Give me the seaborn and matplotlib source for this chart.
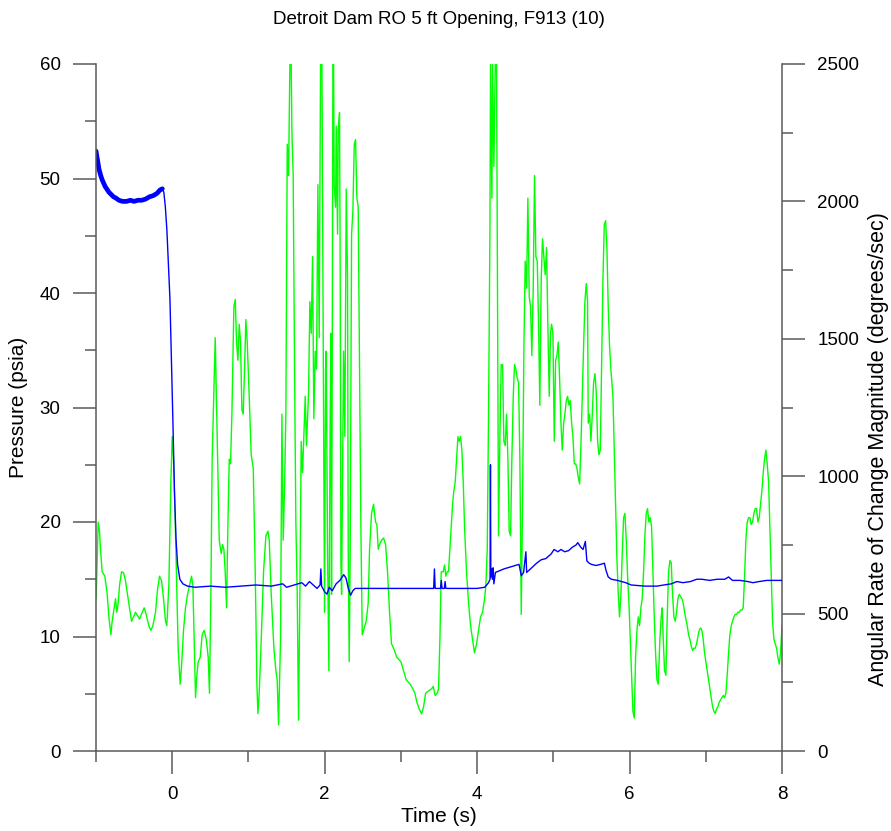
import numpy as np
import pandas as pd
import matplotlib
matplotlib.use("Agg")
import matplotlib.pyplot as plt
import seaborn as sns
from matplotlib.ticker import MultipleLocator

# ---------------- data ----------------
title = "Detroit Dam RO 5 ft Opening, F913 (10)"
x_label = "Time (s)"
y_left_label = "Pressure (psia)"
y_right_label = "Angular Rate of Change Magnitude (degrees/sec)"

# Pressure (psia), blue, left axis
blue_t = [-1.0, -0.98, -0.96, -0.94, -0.92, -0.9, -0.88, -0.85, -0.83, -0.8, -0.77, -0.74,
          -0.7, -0.65, -0.6, -0.55, -0.5, -0.45, -0.4, -0.35, -0.3, -0.25, -0.2, -0.16,
          -0.13, -0.11, -0.09, -0.07, -0.05, -0.03, -0.01, 0.01, 0.03, 0.05, 0.07, 0.1,
          0.14, 0.2, 0.3, 0.5, 0.7, 0.9, 1.1, 1.3, 1.45, 1.5, 1.6, 1.7, 1.75, 1.8, 1.85,
          1.9, 1.94, 1.95, 1.96, 2.0, 2.03, 2.06, 2.1, 2.15, 2.2, 2.25, 2.28, 2.31, 2.34,
          2.37, 2.4, 2.5, 3.0, 3.43, 3.44, 3.45, 3.52, 3.53, 3.54, 3.57, 3.58, 3.59, 4.0,
          4.1, 4.15, 4.17, 4.175, 4.18, 4.19, 4.2, 4.21, 4.22, 4.24, 4.28, 4.35, 4.45,
          4.55, 4.58, 4.61, 4.64, 4.65, 4.7, 4.78, 4.84, 4.9, 4.97, 5.01, 5.06, 5.1, 5.15,
          5.2, 5.25, 5.3, 5.32, 5.36, 5.39, 5.42, 5.44, 5.47, 5.5, 5.56, 5.62, 5.67, 5.69,
          5.72, 5.76, 5.84, 5.95, 6.02, 6.2, 6.36, 6.45, 6.55, 6.62, 6.7, 6.8, 6.88, 6.95,
          7.05, 7.15, 7.25, 7.3, 7.35, 7.45, 7.55, 7.62, 7.7, 7.8, 7.9, 8.0]
blue_p = [52.4, 51.6, 50.8, 50.3, 49.9, 49.6, 49.3, 49.0, 48.8, 48.6, 48.4, 48.3,
          48.1, 48.0, 48.0, 48.1, 48.0, 48.1, 48.1, 48.2, 48.4, 48.5, 48.7, 49.0,
          49.1, 48.8, 47.5, 45.5, 42.5, 39.5, 34.0, 28.5, 22.5, 18.5, 16.3, 15.0,
          14.6, 14.4, 14.3, 14.4, 14.3, 14.4, 14.5, 14.4, 14.6, 14.3, 14.5, 14.7, 14.4, 14.8, 14.5,
          14.2, 14.5, 15.9, 14.4, 13.9, 13.7, 14.3, 14.0, 14.6, 14.9, 15.4, 15.1, 14.2, 13.6,
          14.0, 14.2, 14.2, 14.2, 14.2, 15.9, 14.2, 14.2, 14.9, 14.2, 14.2, 14.8, 14.2, 14.2,
          14.3, 14.7, 15.0, 25.0, 15.2, 15.9, 15.0, 16.0, 14.6, 15.6, 15.7, 15.9, 16.1,
          16.3, 15.3, 15.6, 17.4, 15.6, 15.9, 16.4, 16.7, 16.8, 17.2, 17.6, 17.4, 17.6, 17.4,
          17.5, 17.8, 18.0, 18.2, 17.8, 17.6, 18.3, 16.6, 16.4, 16.3, 16.2, 16.3, 16.4, 15.8,
          15.2, 15.0, 14.9, 14.7, 14.5, 14.4, 14.4, 14.5, 14.6, 14.8, 14.7, 14.8, 15.0, 15.0,
          14.9, 15.0, 15.0, 15.2, 14.9, 14.9, 14.8, 14.7, 14.8, 14.9, 14.9, 14.9]

# Angular rate of change magnitude (deg/s), green, right axis
green_t = [-0.998, -0.971, -0.954, -0.941, -0.919, -0.884, -0.853, -0.831, -0.805, -0.788,
           -0.761, -0.744, -0.726, -0.709, -0.691, -0.665, -0.639, -0.613, -0.587, -0.560,
           -0.534, -0.508, -0.482, -0.455, -0.429, -0.394, -0.368, -0.342, -0.307, -0.280,
           -0.254, -0.219, -0.193, -0.167, -0.140, -0.114, -0.088, -0.071, -0.044, -0.018,
           0.000, 0.017, 0.034, 0.061, 0.078, 0.104, 0.122, 0.148, 0.174, 0.201,
           0.227, 0.253, 0.271, 0.288, 0.306, 0.323, 0.341, 0.367, 0.393, 0.420,
           0.446, 0.472, 0.489, 0.507, 0.524, 0.564, 0.590, 0.617, 0.643, 0.660,
           0.678, 0.695, 0.713, 0.730, 0.748, 0.765, 0.783, 0.809, 0.827, 0.844,
           0.862, 0.879, 0.896, 0.914, 0.931, 0.949, 0.966, 0.984, 1.010, 1.036,
           1.063, 1.089, 1.111, 1.124, 1.141, 1.168, 1.198, 1.229, 1.255, 1.273,
           1.299, 1.334, 1.360, 1.377, 1.395, 1.421, 1.439, 1.456, 1.474, 1.491,
           1.509, 1.526, 1.544, 1.561, 1.570, 1.587, 1.605, 1.622, 1.640, 1.657,
           1.675, 1.692, 1.710, 1.727, 1.745, 1.762, 1.789, 1.806, 1.824, 1.841,
           1.858, 1.876, 1.893, 1.911, 1.928, 1.946, 1.964, 1.981, 1.998, 2.012,
           2.020, 2.038, 2.055, 2.073, 2.082, 2.090, 2.099, 2.108, 2.117, 2.125,
           2.143, 2.152, 2.169, 2.178, 2.195, 2.204, 2.213, 2.222, 2.239, 2.248,
           2.265, 2.283, 2.300, 2.309, 2.322, 2.335, 2.353, 2.370, 2.388, 2.405,
           2.423, 2.440, 2.458, 2.475, 2.493, 2.510, 2.528, 2.545, 2.571, 2.589,
           2.615, 2.641, 2.668, 2.685, 2.703, 2.720, 2.746, 2.773, 2.799, 2.825,
           2.851, 2.877, 2.904, 2.947, 3.000, 3.035, 3.070, 3.122, 3.157, 3.184,
           3.210, 3.245, 3.271, 3.297, 3.324, 3.359, 3.402, 3.424, 3.450, 3.477,
           3.494, 3.512, 3.529, 3.555, 3.573, 3.590, 3.608, 3.625, 3.643, 3.660,
           3.678, 3.695, 3.713, 3.730, 3.748, 3.765, 3.783, 3.800, 3.818, 3.835,
           3.861, 3.888, 3.914, 3.940, 3.966, 3.993, 4.019, 4.045, 4.071, 4.098,
           4.115, 4.133, 4.150, 4.168, 4.176, 4.194, 4.203, 4.220, 4.238, 4.255,
           4.264, 4.272, 4.281, 4.299, 4.316, 4.334, 4.351, 4.369, 4.386, 4.404,
           4.421, 4.439, 4.456, 4.474, 4.491, 4.509, 4.526, 4.544, 4.561, 4.579,
           4.596, 4.614, 4.631, 4.649, 4.666, 4.684, 4.701, 4.718, 4.736, 4.753,
           4.771, 4.789, 4.806, 4.823, 4.841, 4.858, 4.876, 4.893, 4.911, 4.928,
           4.946, 4.963, 4.977, 4.995, 5.012, 5.030, 5.047, 5.065, 5.082, 5.100,
           5.117, 5.135, 5.152, 5.170, 5.187, 5.205, 5.222, 5.240, 5.257, 5.275,
           5.292, 5.310, 5.327, 5.345, 5.362, 5.379, 5.397, 5.414, 5.432, 5.449,
           5.458, 5.476, 5.493, 5.511, 5.528, 5.546, 5.563, 5.581, 5.598, 5.616,
           5.633, 5.651, 5.668, 5.686, 5.703, 5.720, 5.738, 5.755, 5.782, 5.799,
           5.817, 5.834, 5.852, 5.869, 5.887, 5.904, 5.922, 5.939, 5.957, 5.974,
           5.992, 6.009, 6.027, 6.044, 6.062, 6.079, 6.097, 6.114, 6.131, 6.149,
           6.166, 6.184, 6.201, 6.219, 6.236, 6.254, 6.271, 6.289, 6.306, 6.324,
           6.341, 6.359, 6.376, 6.398, 6.415, 6.429, 6.442, 6.459, 6.477, 6.494,
           6.512, 6.529, 6.547, 6.564, 6.582, 6.599, 6.617, 6.634, 6.652, 6.669,
           6.687, 6.704, 6.722, 6.739, 6.757, 6.774, 6.791, 6.809, 6.826, 6.844,
           6.861, 6.879, 6.896, 6.914, 6.931, 6.949, 6.966, 6.984, 7.001, 7.019,
           7.036, 7.054, 7.071, 7.089, 7.106, 7.124, 7.141, 7.159, 7.176, 7.194,
           7.211, 7.229, 7.246, 7.264, 7.281, 7.299, 7.316, 7.334, 7.351, 7.369,
           7.386, 7.404, 7.421, 7.439, 7.456, 7.474, 7.491, 7.509, 7.526, 7.544,
           7.561, 7.579, 7.596, 7.614, 7.631, 7.649, 7.666, 7.684, 7.701, 7.719,
           7.736, 7.754, 7.771, 7.789, 7.806, 7.824, 7.841, 7.859, 7.876, 7.894,
           7.911, 7.929, 7.946, 7.964, 7.981, 8.0]
green_v = [554, 833, 800, 734, 652, 636, 570, 488, 423, 472,
           521, 554, 505, 538, 603, 652, 649, 620, 570, 521,
           472, 488, 505, 492, 480, 505, 521, 497, 456, 439,
           456, 505, 587, 636, 620, 554, 472, 456, 603, 980,
           1144, 1062, 898, 570, 374, 243, 308, 439, 521, 570,
           603, 636, 603, 407, 194, 276, 325, 341, 423, 439,
           407, 341, 210, 570, 1062, 1504, 1144, 767, 718, 751,
           734, 652, 521, 816, 1062, 1045, 1226, 1619, 1643, 1488,
           1422, 1553, 1488, 1242, 1226, 1389, 1570, 1488, 1291, 1078,
           1029, 652, 243, 136, 210, 407, 652, 783, 800, 767,
           570, 374, 292, 259, 95, 407, 1226, 767, 964, 1226,
           2208, 2094, 2500, 2500, 2258, 2094, 1389, 833, 570, 112,
           570, 1127, 1013, 1144, 1291, 1111, 1308, 1635, 1520, 1799,
           1209, 1455, 1389, 2061, 1504, 2500, 2500, 1537, 505, 1389,
           1455, 734, 292, 1226, 1520, 570, 1389, 2500, 2500, 2061,
           1979, 2274, 1881, 2258, 2323, 1717, 685, 570, 1144, 1455,
           1144, 2045, 1717, 734, 325, 734, 1881, 1963, 2208, 2225,
           2012, 1979, 1389, 816, 423, 439, 456, 472, 538, 734,
           865, 898, 833, 824, 734, 751, 767, 775, 751, 652,
           505, 390, 374, 341, 325, 292, 259, 243, 226, 210,
           177, 150, 135, 160, 210, 218, 226, 235, 202, 210,
           226, 407, 652, 652, 677, 636, 652, 652, 734, 816,
           898, 947, 980, 1062, 1144, 1127, 1144, 1095, 980, 816,
           652, 538, 456, 407, 357, 390, 439, 488, 505, 554,
           603, 734, 1226, 1881, 2500, 2012, 2500, 2127, 2500, 2500,
           1914, 1389, 783, 1144, 1406, 1406, 1127, 1111, 1226, 1062,
           800, 783, 1062, 1291, 1406, 1389, 1357, 1340, 1062, 497,
           898, 1471, 1783, 1684, 2012, 1652, 1619, 1439, 1684, 2094,
           1799, 1783, 1553, 1258, 1717, 1864, 1799, 1733, 1832, 1553,
           1291, 1520, 1553, 1520, 1127, 1422, 1439, 1488, 1357, 1193,
           1095, 1193, 1226, 1275, 1291, 1258, 1275, 1193, 1144, 1045,
           1045, 1029, 996, 972, 1111, 1291, 1471, 1635, 1701, 1635,
           1193, 1226, 1127, 1226, 1340, 1373, 1307, 1127, 1078, 1095,
           1389, 1717, 1914, 1930, 1832, 1619, 1471, 1389, 1291, 1095,
           898, 701, 570, 488, 570, 718, 849, 865, 767, 636,
           538, 407, 276, 145, 120, 341, 439, 488, 456, 521,
           554, 652, 783, 865, 882, 833, 849, 816, 652, 488,
           357, 259, 243, 407, 488, 521, 407, 292, 276, 488,
           652, 693, 685, 570, 488, 472, 505, 554, 570, 562,
           554, 538, 505, 480, 456, 423, 407, 382, 366, 374,
           374, 390, 415, 439, 448, 439, 407, 357, 325, 292,
           259, 226, 194, 161, 145, 136, 153, 161, 177, 186,
           194, 202, 194, 210, 276, 357, 423, 456, 472, 488,
           497, 497, 505, 505, 513, 513, 521, 636, 767, 833,
           849, 849, 824, 833, 865, 882, 882, 833, 849, 898,
           947, 1013, 1062, 1095, 1045, 980, 816, 652, 472, 407,
           390, 374, 341, 316, 357, 456]

x_major = [0, 2, 4, 6, 8]

# ---------------- plotting ----------------
sns.set_style("ticks")
plt.rcParams["font.family"] = ["Liberation Sans", "DejaVu Sans"]
plt.rcParams["text.color"] = "black"
plt.rcParams["axes.labelcolor"] = "black"

fig = plt.figure(figsize=(8.91, 8.31), dpi=100)
ax = fig.add_axes([96 / 891, 1 - 751 / 831, 686 / 891, 687 / 831])
ax2 = ax.twinx()

sns.lineplot(x=green_t, y=green_v, ax=ax2, color="#00ff00", linewidth=1.0,
             estimator=None, sort=False)
sns.lineplot(x=blue_t, y=blue_p, ax=ax, color="#0000ff", linewidth=1.0,
             estimator=None, sort=False)
# noisy pre-opening band drawn with a heavier stroke
bt = np.array(blue_t)
bp = np.array(blue_p)
m = bt <= -0.12
sns.lineplot(x=bt[m], y=bp[m], ax=ax, color="#0000ff", linewidth=3.4,
             estimator=None, sort=False)

ax.set_zorder(ax2.get_zorder() + 1)
ax.patch.set_visible(False)

ax.set_xlim(-1, 8)
ax.set_ylim(0, 60)
ax2.set_ylim(0, 2500)

ax.set_xticks(x_major)
ax.xaxis.set_minor_locator(MultipleLocator(1))
ax.yaxis.set_major_locator(MultipleLocator(10))
ax.yaxis.set_minor_locator(MultipleLocator(5))
ax2.yaxis.set_major_locator(MultipleLocator(500))
ax2.yaxis.set_minor_locator(MultipleLocator(250))

spine_c = "#5a5a5a"
for a in (ax, ax2):
    a.tick_params(which="major", length=16.5, width=1.1, color=spine_c,
                  labelsize=13.5, pad=9, labelcolor="black")
    a.tick_params(which="minor", length=8, width=1.1, color=spine_c)
    for s in a.spines.values():
        s.set_color(spine_c)
        s.set_linewidth(1.1)
    a.spines["top"].set_visible(False)
ax.spines["right"].set_visible(False)
ax2.spines["left"].set_visible(False)
ax2.spines["bottom"].set_visible(False)

ax.set_xlabel(x_label, fontsize=15, color="black")
ax.set_ylabel(y_left_label, fontsize=15, color="black")
ax2.set_ylabel(y_right_label, fontsize=15.5, color="black")
ax.xaxis.set_label_coords(0.5, -0.081)
ax.yaxis.set_label_coords(-0.099, 0.5)
ax2.yaxis.set_label_coords(1.125, 0.44)

ax.set_title(title, fontsize=13.5, pad=29, color="black")

fig.savefig("out.png", dpi=100)
